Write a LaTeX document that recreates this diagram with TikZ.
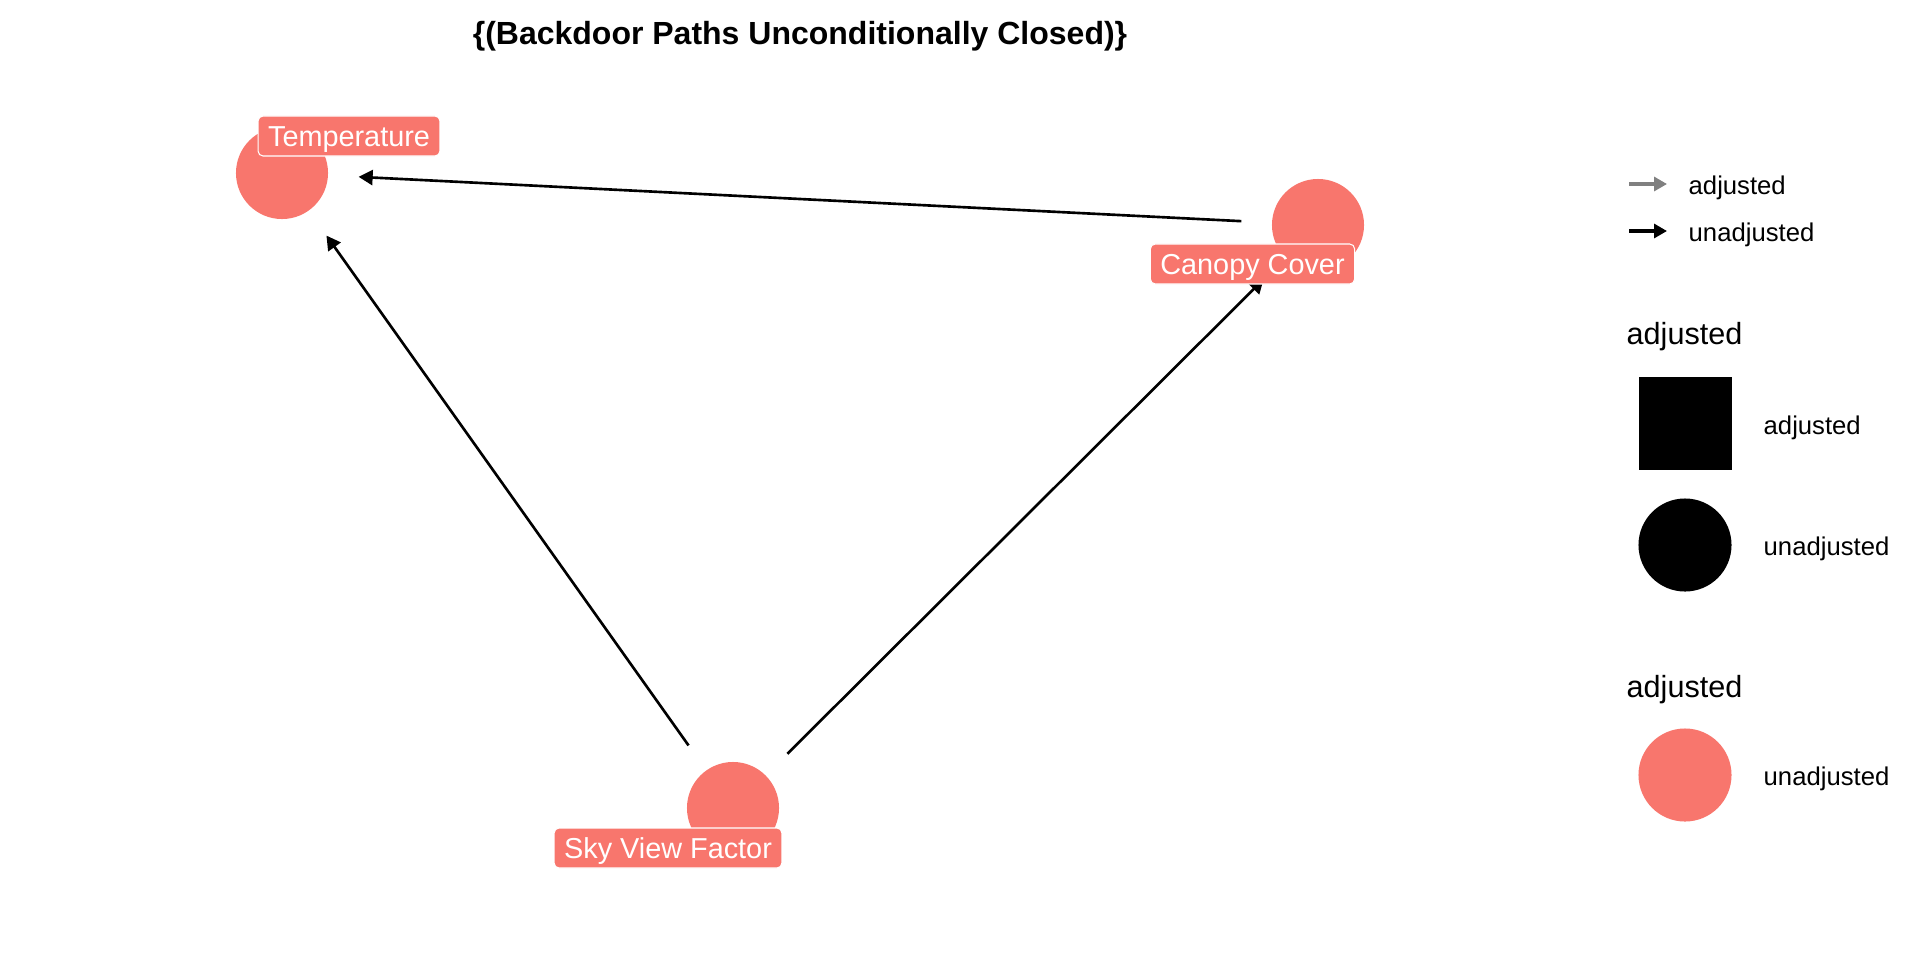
\documentclass[tikz,border=0pt]{standalone}
\usepackage{fontspec}
\setmainfont{Liberation Sans}
\usetikzlibrary{arrows.meta}
\definecolor{salmon}{HTML}{F8766D}

\begin{document}
\begin{tikzpicture}[x=0.01cm, y=-0.01cm,
  var/.style={circle, fill=salmon, minimum size=0.92cm, inner sep=0pt},
  varlabel/.style={fill=salmon, draw=white, line width=0.3pt, rounded corners=0.05cm,
    text=white, font=\fontsize{8.2}{10}\selectfont, text height=0.21cm, text depth=0cm,
    inner xsep=0.1cm, inner ysep=0.095cm},
  edge/.style={line width=0.75pt, -{Triangle[length=0.14cm, width=0.15cm]},
    shorten <=0.3cm, shorten >=0.3cm},
  legarrow/.style={line width=0.9pt, -{Triangle[length=0.13cm, width=0.14cm]}},
  legtitle/.style={anchor=base west, inner sep=0pt, font=\fontsize{8.7}{10}\selectfont},
  legtext/.style={anchor=base west, inner sep=0pt, font=\fontsize{7.3}{9}\selectfont}]
  \fill[white] (0, 0) rectangle (1920, 960);
  \useasboundingbox (0, 0) rectangle (1920, 960);

  \node [anchor=base, inner sep=0pt, font=\fontsize{9.1}{11}\selectfont\bfseries]
    (title) at (800, 44) {\{(Backdoor Paths Unconditionally Closed)\}};

  % variables
  \node [var] (temp) at (282, 173) {};
  \node [var] (canopy) at (1318, 225) {};
  \node [var] (svf) at (733, 808) {};

  \draw [edge] (canopy) -- (temp);
  \draw [edge] (svf) -- (temp);
  \draw [edge] (svf) -- (canopy);

  \node [varlabel] (temp-lbl) at (349, 136) {Temperature};
  \node [varlabel] (canopy-lbl) at (1252.5, 264) {Canopy Cover};
  \node [varlabel] (svf-lbl) at (668, 848) {Sky View Factor};

  % legend
  \coordinate (adj-a) at (1629, 184);
  \coordinate (adj-b) at (1667, 184);
  \coordinate (unadj-a) at (1629, 231);
  \coordinate (unadj-b) at (1667, 231);
  \draw [legarrow, black!50] (adj-a) -- (adj-b);
  \draw [legarrow] (unadj-a) -- (unadj-b);
  \node [legtext] (adj-txt) at (1688, 194) {adjusted};
  \node [legtext] (unadj-txt) at (1688, 241) {unadjusted};

  \node [legtitle] (shape-ttl) at (1626, 344) {adjusted};
  \node [rectangle, fill=black, minimum size=0.93cm, inner sep=0pt] (sq) at (1685.5, 423.5) {};
  \node [legtext] (sq-txt) at (1763, 434) {adjusted};
  \node [circle, fill=black, minimum size=0.93cm, inner sep=0pt] (dot) at (1685, 545) {};
  \node [legtext] (dot-txt) at (1763, 555) {unadjusted};

  \node [legtitle] (col-ttl) at (1626, 697) {adjusted};
  \node [var, minimum size=0.93cm] (col) at (1685, 775) {};
  \node [legtext] (col-txt) at (1763, 785) {unadjusted};

\end{tikzpicture}
\end{document}
